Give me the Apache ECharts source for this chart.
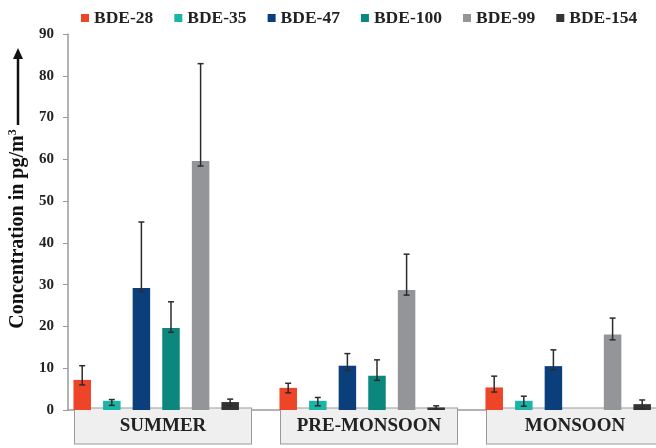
<!DOCTYPE html>
<html>
<head>
    <meta charset="UTF-8">
    <title>PBDE seasonal concentration</title>
    <script src="https://cdn.jsdelivr.net/npm/echarts@6/dist/echarts.min.js"></script>
</head>
<body style="margin:0">
<div id="main" style="width: 656px; height: 448px"></div>
<script>
    // seasons and congeners
    var seasons = ['SUMMER', 'PRE-MONSOON', 'MONSOON'];
    var congeners = ['BDE-28', 'BDE-35', 'BDE-47', 'BDE-100', 'BDE-99', 'BDE-154'];
    var colors = ['#ee4428', '#1bb5a8', '#0a3f7c', '#0b877e', '#939598', '#333333'];

    // mean values per congener, one entry per season (pg/m3)
    var bde28  = [7.2, 5.3, 5.4];
    var bde35  = [2.2, 2.2, 2.2];
    var bde47  = [29.2, 10.6, 10.5];
    var bde100 = [19.6, 8.2, null];
    var bde99  = [59.6, 28.7, 18.1];
    var bde154 = [1.9, 0.6, 1.4];

    // error bar ends (upper / lower)
    var hi28  = [10.6, 6.4, 8.1],   lo28  = [6.0, 4.1, 4.3];
    var hi35  = [2.5, 3.0, 3.3],    lo35  = [1.1, 1.0, 0.9];
    var hi47  = [45.0, 13.5, 14.4], lo47  = [28.3, 9.5, 9.6];
    var hi100 = [25.9, 12.0, null], lo100 = [18.6, 7.1, null];
    var hi99  = [82.9, 37.3, 22.0], lo99  = [58.4, 27.5, 16.8];
    var hi154 = [2.6, 1.0, 2.4],    lo154 = [1.0, 0.2, 0.3];

    var yTicks = [0, 90, 10];  // min, max, interval

    var values = [bde28, bde35, bde47, bde100, bde99, bde154];
    var highs = [hi28, hi35, hi47, hi100, hi99, hi154];
    var lows = [lo28, lo35, lo47, lo100, lo99, lo154];

    var BAR_W = 17.5, GAP = 12.1, SLOTS = 7;   // original chart keeps a blank 7th slot
    var PITCH = BAR_W + GAP;
    var FONT = 'Liberation Serif';

    var errData = [];
    values.forEach(function (arr, s) {
        arr.forEach(function (v, c) {
            if (highs[s][c] != null) errData.push([c, s, lows[s][c], highs[s][c]]);
        });
    });

    var series = congeners.map(function (name, i) {
        return {
            name: name,
            type: 'bar',
            barWidth: BAR_W,
            barGap: (GAP / BAR_W * 100).toFixed(1) + '%',
            itemStyle: { color: colors[i] },
            data: values[i]
        };
    });
    // empty slot
    series.push({ name: 'blank', type: 'bar', barWidth: BAR_W, data: [] });
    series.push({
        type: 'custom',
        z: 10,
        data: errData,
        renderItem: function (params, api) {
            var base = api.coord([api.value(0), 0]);
            var x = base[0] + (api.value(1) - (SLOTS - 1) / 2) * PITCH;
            var yLo = api.coord([api.value(0), api.value(2)])[1];
            var yHi = api.coord([api.value(0), api.value(3)])[1];
            var st = { stroke: '#2b2b2b', lineWidth: 1.5 };
            return {
                type: 'group',
                children: [
                    { type: 'line', shape: { x1: x, y1: yLo, x2: x, y2: yHi }, style: st },
                    { type: 'line', shape: { x1: x - 3, y1: yHi, x2: x + 3, y2: yHi }, style: st },
                    { type: 'line', shape: { x1: x - 3, y1: yLo, x2: x + 3, y2: yLo }, style: st }
                ]
            };
        }
    });

    var myChart = echarts.init(document.getElementById('main'));
    var option = {
        backgroundColor: '#ffffff',
        animation: false,
        textStyle: { fontFamily: FONT },
        legend: {
            data: congeners,
            left: 76,
            top: 4,
            itemWidth: 8,
            itemHeight: 8,
            itemGap: 21,
            icon: 'rect',
            textStyle: { fontFamily: FONT, fontWeight: 'bold', fontSize: 17.5, color: '#222' }
        },
        grid: { left: 68, top: 34, width: 618, bottom: 38, outerBoundsMode: 'none' },
        xAxis: {
            type: 'category',
            data: seasons,
            axisLine: { lineStyle: { color: '#9a9a9a', width: 1.5 } },
            axisTick: { show: false },
            axisLabel: {
                margin: 7,
                interval: 0,
                formatter: function (v) { return '{box|' + v + '}{gap|}'; },
                rich: {
                    box: {
                        fontFamily: FONT, fontWeight: 'bold', fontSize: 19, color: '#222',
                        backgroundColor: '#efefef', borderColor: '#9a9a9a', borderWidth: 1,
                        width: 176, align: 'center', padding: [8, 0, 8, 0], lineHeight: 18
                    },
                    gap: { width: 16 }
                }
            }
        },
        yAxis: {
            type: 'value',
            min: yTicks[0],
            max: yTicks[1],
            interval: yTicks[2],
            name: 'Concentration in pg/m{sup|3}',
            nameLocation: 'middle',
            nameRotate: 90,
            nameGap: 38,
            nameTextStyle: {
                fontFamily: FONT, fontWeight: 'bold', fontSize: 20, color: '#111',
                padding: [0, 0, 0, -14],
                rich: { sup: { fontFamily: FONT, fontWeight: 'bold', fontSize: 12, color: '#111', verticalAlign: 'top', padding: [0, 0, 10, 0] } }
            },
            axisLine: { show: true, lineStyle: { color: '#9a9a9a', width: 1.5 } },
            axisTick: { show: true, length: 5, lineStyle: { color: '#9a9a9a' } },
            axisLabel: { margin: 14, fontFamily: FONT, fontWeight: 'bold', fontSize: 15, color: '#222' },
            splitLine: { show: false }
        },
        graphic: [
            { type: 'line', shape: { x1: 18, y1: 125, x2: 18, y2: 56 }, style: { stroke: '#111', lineWidth: 2.5 } },
            { type: 'polygon', shape: { points: [[18, 48], [13, 59], [23, 59]] }, style: { fill: '#111' } }
        ],
        series: series
    };
    myChart.setOption(option);
</script>
</body>
</html>
